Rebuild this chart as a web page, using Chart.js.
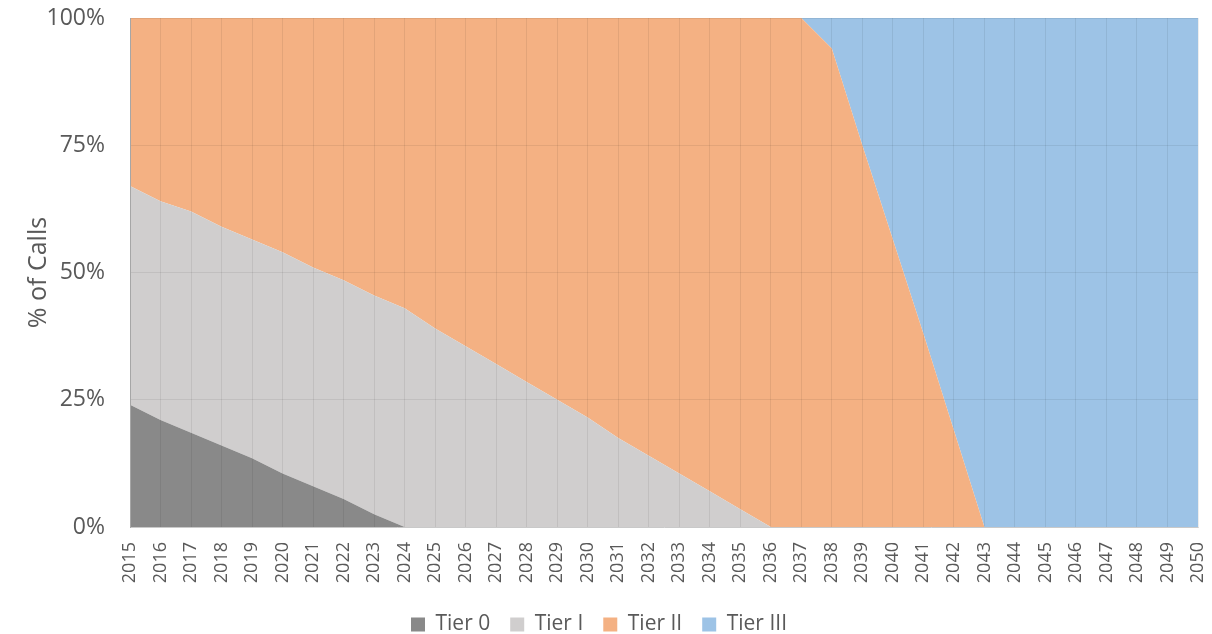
<!DOCTYPE html>
<html>
<head>
<meta charset="utf-8">
<script src="https://cdn.jsdelivr.net/npm/chart.js@4"></script>
<style>
  html, body { margin: 0; padding: 0; background: #fff; }
  #wrap { width: 1212px; height: 634px; }
</style>
</head>
<body>
<div id="wrap"><canvas id="callsChart"></canvas></div>
<script>
// years on the x axis
const years = [];
for (let y = 2015; y <= 2050; y++) years.push(String(y));

// share of calls per tier, in percent
const tier0 = [24, 21, 18.5, 16, 13.5, 10.5, 8, 5.5, 2.5, 0,
               0, 0, 0, 0, 0, 0, 0, 0, 0, 0, 0, 0, 0, 0, 0, 0, 0, 0, 0, 0, 0, 0, 0, 0, 0, 0];
const tier1 = [43, 43, 43.5, 43, 43, 43.5, 43, 43, 43, 43,
               39, 35.5, 32, 28.5, 25, 21.5, 17.5, 14, 10.5, 7, 3.5, 0,
               0, 0, 0, 0, 0, 0, 0, 0, 0, 0, 0, 0, 0, 0];
const tier3 = [0, 0, 0, 0, 0, 0, 0, 0, 0, 0, 0, 0, 0, 0, 0, 0, 0, 0, 0, 0, 0, 0,
               0, 6, 25, 43.5, 62, 81, 100,
               100, 100, 100, 100, 100, 100, 100];
// Tier II fills whatever is left up to 100%
const tier2 = years.map((_, i) => Math.max(0, 100 - tier0[i] - tier1[i] - tier3[i]));

const yTicks = [0, 25, 50, 75, 100];

const FONT = '"Open Sans", "Noto Sans", sans-serif';
const TXT = '#595959';

function areaSet(label, data, color, fill) {
    return {
        label: label,
        data: data,
        backgroundColor: color,
        borderColor: color,
        borderWidth: 0,
        pointRadius: 0,
        fill: fill,
        tension: 0
    };
}

const ctx = document.getElementById('callsChart').getContext('2d');
const chart = new Chart(ctx, {
    type: 'line',
    data: {
        labels: years,
        datasets: [
            areaSet('Tier 0', tier0, '#898989', 'origin'),
            areaSet('Tier I', tier1, '#d0cece', '-1'),
            areaSet('Tier II', tier2, '#f4b183', '-1'),
            areaSet('Tier III', tier3, '#9dc3e6', '-1')
        ]
    },
    options: {
        responsive: true,
        maintainAspectRatio: false,
        animation: false,
        layout: { padding: { left: 0, right: 14, top: 18, bottom: -11 } },
        scales: {
            x: {
                offset: false,
                afterFit: (axis) => {
                    axis.height = 67;
                    axis.paddingLeft = 0;
                    axis.paddingRight = 0;
                },
                grid: { color: 'rgba(0,0,0,0.07)', z: 1, drawTicks: false },
                border: { color: '#d9d9d9', z: 1 },
                ticks: {
                    autoSkip: false,
                    maxRotation: 90,
                    minRotation: 90,
                    padding: 15,
                    color: TXT,
                    font: { family: FONT, size: 18 }
                }
            },
            y: {
                stacked: true,
                min: 0,
                max: 100,
                afterFit: (axis) => {
                    axis.width = 130;
                    axis.paddingTop = 0;
                    axis.paddingBottom = 0;
                },
                afterBuildTicks: (axis) => { axis.ticks = yTicks.map(v => ({ value: v })); },
                grid: { color: 'rgba(0,0,0,0.07)', z: 1, drawTicks: false },
                border: { color: '#a6a6a6', z: 1 },
                ticks: {
                    padding: 25,
                    color: TXT,
                    font: { family: FONT, size: 23 },
                    callback: (v) => v + '%'
                },
                title: {
                    display: true,
                    text: '% of Calls',
                    color: TXT,
                    padding: { top: 24, bottom: 0 },
                    font: { family: FONT, size: 25 }
                }
            }
        },
        plugins: {
            legend: {
                position: 'bottom',
                labels: {
                    boxWidth: 14,
                    boxHeight: 14,
                    padding: 20,
                    color: TXT,
                    font: { family: FONT, size: 21 }
                }
            },
            tooltip: { enabled: false }
        }
    }
});
</script>
</body>
</html>
